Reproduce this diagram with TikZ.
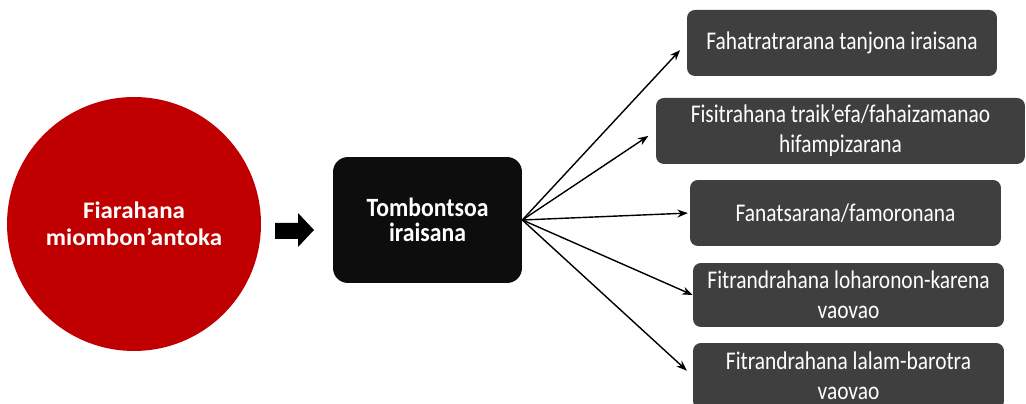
\documentclass[tikz,border=0pt]{standalone}
\usepackage{fontspec}
\setmainfont{Carlito}
\newfontfamily\circfont{Carlito}[FakeStretch=1.05]
\newfontfamily\tallfont{Carlito}[FakeStretch=0.9]
\newfontfamily\goalfont{Carlito}[FakeStretch=0.84]
\usetikzlibrary{arrows.meta}
\definecolor{circred}{HTML}{C00000}
\definecolor{boxblack}{HTML}{0D0D0D}
\definecolor{boxgray}{HTML}{3F3F3F}

\begin{document}
\begin{tikzpicture}[x=0.02cm,y=-0.02cm,
  goal/.style={fill=boxgray,rounded corners=4.5pt,text=white,align=center,
    font=\goalfont\fontsize{14.5}{17}\selectfont,minimum height=1.32cm,inner sep=0pt},
  link/.style={-{Stealth[length=6pt,width=4.5pt]},line width=0.8pt}]
\useasboundingbox (0,0) rectangle (1026,404);

\node[circle,fill=circred,minimum size=5.08cm,text=white,align=center,
  font=\circfont\bfseries\fontsize{13.5}{15.4}\selectfont] (fm) at (134,224) {Fiarahana\\miombon’antoka};
\fill (275,223) -- (298,223) -- (298,213) -- (314,230) -- (298,247) -- (298,239) -- (275,239) -- cycle;
\node[fill=boxblack,rounded corners=8.5pt,text=white,align=center,minimum width=3.78cm,
  minimum height=2.52cm,font=\tallfont\bfseries\fontsize{15}{14.5}\selectfont] (ti) at (427.5,220) {Tombontsoa\\iraisana};

\node[goal,minimum width=6.2cm] (g1) at (842,43) {Fahatratrarana tanjona iraisana};
\node[goal,minimum width=7.38cm] (g2) at (840.5,131) {Fisitrahana traik’efa/fahaizamanao\\hifampizarana};
\node[goal,minimum width=6.22cm] (g3) at (845.5,213) {Fanatsarana/famoronana};
\node[goal,minimum width=6.22cm,minimum height=1.28cm] (g4) at (848.5,295) {Fitrandrahana loharonon-karena\\vaovao};
\node[goal,minimum width=6.22cm] (g5) at (848.5,376) {Fitrandrahana lalam-barotra\\vaovao};

\draw[link,shorten >=5.5pt] (ti.east) -- (g1.west);
\draw[link,shorten >=5pt] (ti.east) -- (g2.west);
\draw[link,shorten >=1pt] (ti.east) -- (g3.west);
\draw[link] (ti.east) -- (g4.west);
\draw[link,shorten >=4.5pt] (ti.east) -- (g5.west);
\end{tikzpicture}
\end{document}
